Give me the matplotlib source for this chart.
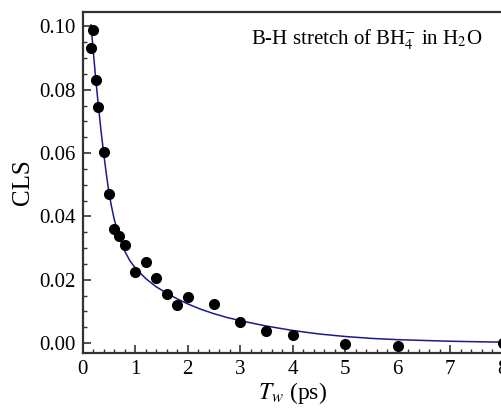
import matplotlib
matplotlib.use("Agg")
import matplotlib.pyplot as plt
from matplotlib.ticker import MultipleLocator, FormatStrFormatter

plt.rcParams["font.family"] = ["Liberation Serif", "DejaVu Serif"]
plt.rcParams["mathtext.fontset"] = "stix"

# measured CLS values
tw = [0.15, 0.2, 0.25, 0.3, 0.4, 0.5, 0.6, 0.7, 0.8, 1.0, 1.2, 1.4, 1.6,
      1.8, 2.0, 2.5, 3.0, 3.5, 4.0, 5.0, 6.0, 8.0]
cls = [0.0932, 0.0990, 0.0832, 0.0745, 0.0602, 0.0472, 0.0361, 0.0338,
       0.0311, 0.0224, 0.0256, 0.0207, 0.0155, 0.0122, 0.0147, 0.0125,
       0.0068, 0.0038, 0.0027, -0.0003, -0.0009, 0.0002]

# fit curve
fit_t = [0.16, 0.2, 0.25, 0.3, 0.35, 0.4, 0.45, 0.5, 0.55, 0.6, 0.7, 0.8,
         0.9, 1.0, 1.2, 1.4, 1.6, 1.8, 2.0, 2.25, 2.5, 2.75, 3.0, 3.5, 4.0,
         4.5, 5.0, 5.5, 6.0, 7.0, 8.0]
fit_cls = [0.1005, 0.0925, 0.0833, 0.0748, 0.0670, 0.0600, 0.0535, 0.0476,
           0.0431, 0.0392, 0.0332, 0.0291, 0.0260, 0.0238, 0.0204, 0.0178,
           0.0158, 0.0140, 0.0124, 0.0107, 0.0093, 0.0081, 0.0071, 0.0054,
           0.0040, 0.0029, 0.0021, 0.0015, 0.0011, 0.0006, 0.0003]

fig = plt.figure(figsize=(5.01, 4.09), dpi=100)
ax = fig.add_axes([0.165, 0.137, 1.0034 - 0.165, 0.971 - 0.137])

ax.plot(fit_t, fit_cls, color="#1a1a8c", lw=1.1, zorder=2)
ax.plot(tw, cls, ls="None", marker="o", ms=7, color="black", zorder=3,
        clip_on=False)

ax.set_xlim(0, 8)
ax.set_ylim(-0.0031, 0.1046)
ax.xaxis.set_major_locator(MultipleLocator(1))
ax.xaxis.set_minor_locator(MultipleLocator(0.2))
ax.yaxis.set_major_locator(MultipleLocator(0.02))
ax.yaxis.set_minor_locator(MultipleLocator(0.005))
ax.yaxis.set_major_formatter(FormatStrFormatter("%.2f"))

ax.tick_params(which="both", direction="in", top=False, right=False,
               color="#333333", labelsize=15, pad=5)
ax.tick_params(which="major", length=6, width=1.2)
ax.tick_params(which="minor", length=3, width=1.0)
for s in ax.spines.values():
    s.set_linewidth(1.6)
    s.set_color("#333333")

ax.set_xlabel(r"$T_w$ (ps)", fontsize=17, labelpad=1)
ax.set_ylabel("CLS", fontsize=18, labelpad=4)

ax.text(0.40, 0.955, r"B-H stretch of BH$_4^{-}$ in H$_2$O",
        transform=ax.transAxes, fontsize=15, va="top", ha="left")

fig.savefig("out.png", dpi=100)
